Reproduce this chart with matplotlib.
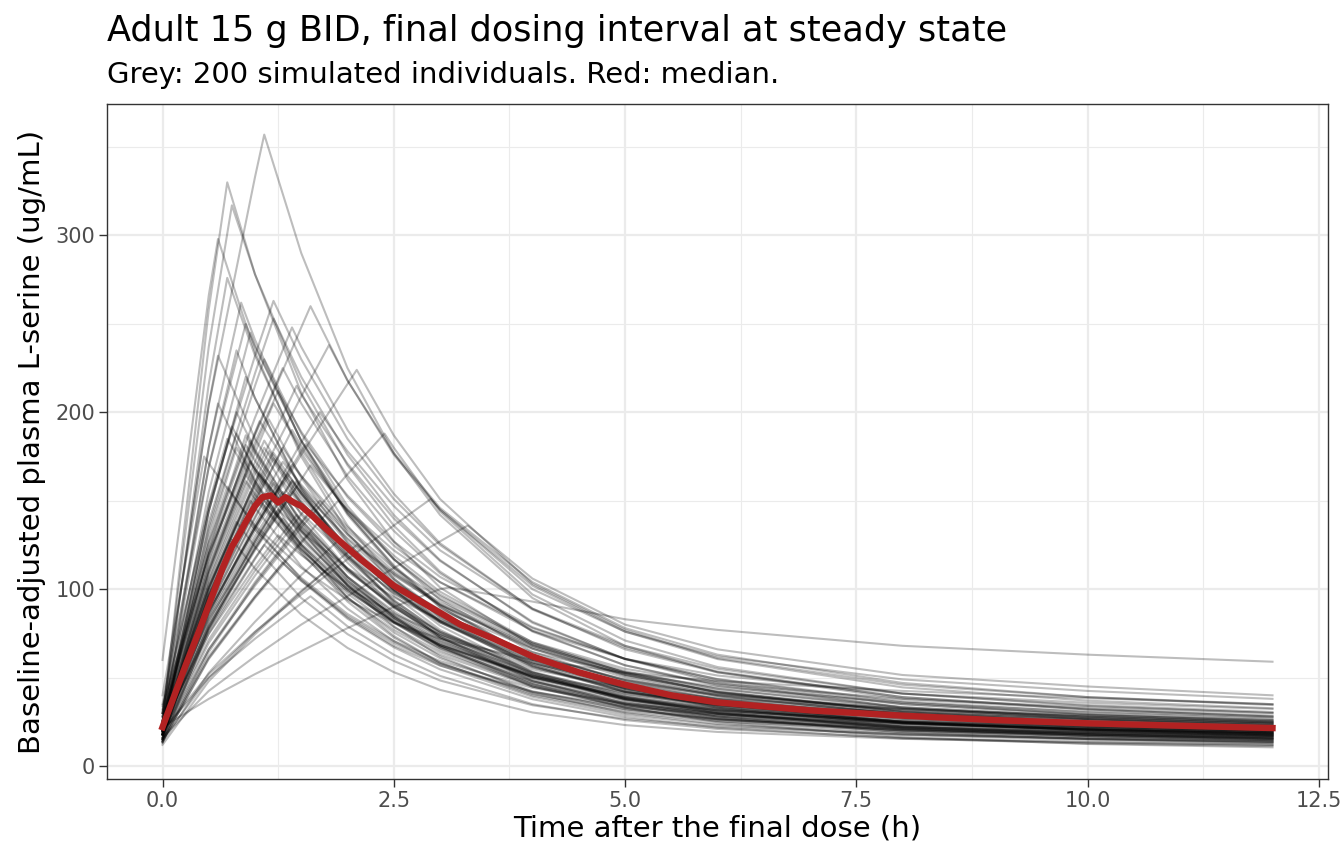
# Adult 15 g BID - final dosing interval, simulated individuals + median
import matplotlib
matplotlib.use("Agg")
import matplotlib.pyplot as plt
from matplotlib.ticker import MultipleLocator, FormatStrFormatter

# common sampling times (h) for each individual curve
t_grid = [0, 0.5, 1, 1.5, 2, 2.5, 3, 4, 5, 6, 8, 10, 12]

# time and value of each individual's peak
peak_t = [1.1, 0.7, 0.75, 0.6, 0.7, 1.2, 1.6, 1.8, 2.1, 2.4, 2.9, 3.3, 3.1, 1.6, 0.9,
          0.95, 1.2, 1.4, 0.8, 1.1, 1.3, 0.9, 0.6, 1.45, 1.2, 0.8, 1.05, 1.7, 1.4, 0.7,
          1.1, 0.45, 1.3, 0.9, 1.6, 1.2, 0.7, 1.4, 0.95, 1.9, 1.3, 0.8, 1.6, 1.1, 2.1,
          1.3, 1.8, 0.6, 0.85, 1.55, 1.25, 0.75, 1.05, 1.35, 0.9, 1.15, 1.25, 0.75, 1.45, 0.95,
          1.1, 0.95, 1.2, 1.4, 1.3, 1.45, 1.2, 1.05, 1.7, 1.4, 1.1, 1.3, 1.6, 1.2, 1.4,
          1.3, 1.1, 1.05, 0.9, 1.15, 1.25, 1.45, 0.95, 0.8, 0.9, 0.9, 0.95, 1.55, 1.9, 0.8]
peak_c = [357, 330, 317, 298, 276, 263, 260, 238, 224, 188, 151, 136, 101, 96, 250,
          245, 253, 248, 235, 230, 225, 220, 232, 215, 205, 200, 195, 200, 190, 185,
          180, 175, 172, 165, 170, 160, 158, 155, 150, 150, 140, 138, 132, 125, 125,
          115, 112, 205, 262, 182, 212, 192, 150, 165, 140, 178, 145, 128, 158, 172,
          184, 184, 177, 161, 180, 161, 174, 166, 150, 161.5, 162, 155, 144.5, 144, 170.5,
          161, 150, 165, 161, 196, 130.5, 142, 155, 180, 187, 181.5, 172.5, 145.6, 127.5, 188]

# concentration of each individual at t_grid (ug/mL)
conc = [
    [30, 204, 333, 290, 225, 177, 142, 95, 68, 53, 38, 32, 28],
    [25, 258, 278, 211, 162, 127, 101, 68, 51, 41, 31, 27, 24],
    [28, 237, 278, 216, 170, 136, 110, 76, 57, 46, 35, 29.5, 26],
    [60, 266, 234, 175, 132, 103, 82, 56, 42, 35, 28, 24, 22],
    [22, 216, 232, 177, 136, 106, 84, 57, 42, 34, 26, 22.5, 20],
    [32, 147, 232, 230, 185, 151, 125, 89, 68, 55, 41, 34.5, 30.6],
    [26, 118, 187, 248, 218, 176, 145, 102, 76, 60.5, 44.5, 37, 32.7],
    [24, 101, 158, 209, 218, 177, 146, 104, 78, 63, 47, 39, 35],
    [20, 85, 133, 176, 216, 187, 151, 103, 77, 61, 46, 39, 34.5],
    [18, 66, 102, 135, 165, 180, 144, 97, 71, 56, 41, 34, 30],
    [20, 52, 76, 97, 117, 136, 145, 100, 76, 62, 49, 42.5, 38],
    [16, 42.5, 62, 80, 96, 112, 127, 106, 80, 66, 51.5, 45, 40],
    [22, 38, 52, 65, 78, 90, 100, 93, 83, 77, 68, 63, 59],
    [20, 50, 72, 92, 79, 63, 51, 35, 26, 21, 16, 13.6, 12],
    [35, 169, 237, 184, 145, 117, 96, 70, 55, 46.6, 38, 33.3, 30],
    [20, 155, 238, 184, 143, 113, 90, 60, 44, 34, 24.6, 20.7, 18.3],
    [25, 138, 222, 220, 176, 142, 116.5, 81, 60.6, 48, 35, 29, 25.6],
    [30, 126, 197, 237, 190, 154, 126, 89, 66, 53, 39, 32.4, 28.6],
    [24, 169, 208, 156, 119, 92, 73, 50, 38, 31.5, 25.2, 22.2, 20],
    [22, 133, 215, 188, 147, 117, 94, 64.5, 47.6, 38, 28, 24, 21.3],
    [28, 120, 188, 205, 164, 133, 109, 76.5, 57, 45.4, 33.4, 27.9, 24.5],
    [18, 144, 208, 157, 120, 93, 73, 48.6, 35.4, 28, 21, 18, 16],
    [30, 204.5, 185, 142, 111.5, 90, 74, 54.7, 44.3, 38.3, 32.2, 28.7, 26],
    [20, 103, 165, 210, 171, 140, 116, 81.6, 60.5, 47, 33, 26.6, 23],
    [25, 114.5, 180.5, 179, 144, 117, 97, 69, 52, 42, 31.5, 26.5, 23.4],
    [22, 144, 179, 137, 106, 84, 67.7, 47, 35.7, 29.4, 23, 20, 18],
    [28, 120, 188.5, 158, 126, 103, 85, 62, 48.7, 40.6, 32.3, 28, 25],
    [18, 86, 137, 183, 178, 147, 122, 88.5, 67, 53.5, 39, 32, 28],
    [15, 92, 149, 181, 143, 113.5, 91, 61, 43.5, 33, 22.4, 18, 15.3],
    [30, 148, 159, 125, 100, 82, 68.5, 51.4, 41.8, 36, 30, 26.6, 24],
    [20, 105, 168, 148, 117, 93.5, 76, 53.4, 40.3, 32.8, 25, 21.5, 19.2],
    [40, 171, 136, 112, 94, 81, 72, 60, 52.8, 48, 42.5, 38.4, 35],
    [25, 93.5, 144, 159, 131, 108.6, 91, 67, 51.5, 41.8, 31, 25.9, 22.6],
    [22, 111, 157, 123, 97.5, 78.6, 64.4, 45.7, 35, 28.7, 22.2, 19.2, 17.2],
    [18, 78, 122, 162, 144.5, 119, 98.6, 70, 52.7, 41.5, 29.5, 24, 20.8],
    [20, 89.6, 141, 139, 111, 90, 74, 51.6, 38.5, 30.5, 22.4, 18.6, 16.3],
    [25, 126.6, 135, 105.7, 84, 68, 56.8, 42, 33.7, 29, 23.8, 21, 19],
    [20, 79, 123, 149, 122.7, 102, 86, 63, 48.8, 39.6, 29.6, 24.6, 21.6],
    [16, 96, 146, 113, 89, 70.7, 57, 39.2, 29, 23.2, 17.5, 14.8, 13],
    [16, 62, 96, 127, 145, 122, 104, 78, 60.7, 49, 36, 29.2, 25.2],
    [22, 77, 117.6, 128, 103.6, 85, 70.6, 50.9, 39.2, 32, 24.3, 20.6, 18.3],
    [18, 100, 124, 95, 74.6, 59.5, 48.4, 34.4, 26.7, 22.2, 17.9, 15.6, 14],
    [14, 60.5, 95, 126, 111.8, 91.4, 75.5, 53, 39.2, 30.5, 21.3, 17, 14.6],
    [18, 75, 117, 104.8, 84.8, 69.5, 57.9, 41.9, 32.4, 26.4, 20.3, 17.2, 15.3],
    [15, 50, 75.7, 99, 120.7, 109, 92.6, 68.5, 52.8, 42.4, 30.5, 24.6, 21.1],
    [14, 61, 95.8, 104.7, 83.3, 67.2, 54.7, 37.8, 27.8, 21.7, 15.6, 12.8, 11.3],
    [12, 48, 74.5, 98.4, 102.8, 83, 67.8, 46.3, 33.1, 24.8, 16.3, 12.5, 10.6],
    [20, 180, 161, 121, 93, 72.7, 58.3, 40.7, 31.4, 26.3, 21.3, 18.8, 17],
    [25, 180, 241, 183.6, 142, 112, 89.8, 61.8, 46.6, 38, 29.6, 25.8, 23],
    [22, 87, 134.6, 178, 153, 127, 107, 78.5, 60.6, 49.2, 36.7, 30.4, 26.8],
    [34, 119.4, 183, 189, 152, 124.7, 104, 76.5, 60.6, 51.2, 41, 35.8, 32.3],
    [19, 144, 167.8, 129.6, 102, 81.7, 66.8, 47.8, 37.4, 31.4, 25.3, 22.3, 20],
    [18, 91, 145, 120, 95, 77, 63, 45, 34.5, 28, 21.8, 18.7, 16.7],
    [24, 87.6, 135, 155.6, 128.8, 107.8, 91.3, 67.9, 53.2, 43.7, 33.2, 28, 24.6],
    [20, 95, 133.6, 106.4, 86, 70.7, 59.4, 44.2, 35.3, 30, 24.2, 21.3, 19.1],
    [16, 99, 161, 148.4, 115, 90.5, 72.2, 48.1, 34.6, 26.8, 19.3, 16.1, 14.2],
    [26, 83, 125.6, 132.6, 111.8, 95.5, 82.7, 64.3, 52.5, 44.7, 35.8, 30.8, 27.5],
    [14, 96.4, 111.6, 85.6, 66.8, 53.1, 43.1, 30.3, 23.2, 19.3, 15.4, 13.4, 12],
    [21, 79.5, 122.8, 154.5, 123.3, 99.4, 81.2, 56.5, 41.9, 33, 23.9, 19.8, 17.4],
    [23, 112, 168, 135.3, 110, 90.8, 76, 55.8, 43.6, 36.1, 27.9, 23.9, 21.3],
    [17.6, 106, 172, 150, 118, 94, 75, 52, 38, 30, 22, 19, 17],
    [15, 116, 178, 138, 107, 85, 67.5, 45, 33, 25.5, 18.5, 15.5, 13.7],
    [17.5, 97, 155, 154, 123, 99, 81.5, 57, 42.4, 33.6, 24.5, 20.3, 17.9],
    [19.5, 82, 128, 154, 123.5, 100, 82, 58, 43, 34.5, 25.4, 21, 18.6],
    [22.4, 96, 150, 164, 131, 106, 87, 61, 45.6, 36.3, 26.7, 22.3, 19.6],
    [15, 77, 124, 157.5, 128, 105, 87, 61, 45.4, 35, 24.8, 20, 17.3],
    [21, 97, 153, 152, 122, 99.5, 82.5, 58.6, 44, 35.7, 26.8, 22.5, 20],
    [24, 102, 160, 134, 107, 87.5, 72, 52.7, 41.4, 34.5, 27.5, 23.8, 21.3],
    [13.5, 64.5, 103, 137, 133.5, 110, 91.5, 66.4, 50, 40, 29, 24, 21],
    [13, 78, 127, 154, 121.5, 96.5, 77, 52, 37, 28, 19, 15.3, 13],
    [18, 94.5, 151, 133, 105, 84, 68.4, 48, 36, 29.5, 22.5, 19.4, 17.3],
    [22.5, 84, 130, 143, 118, 98, 82, 60, 46, 37.6, 28, 23.3, 20.3],
    [15.3, 66, 104, 138, 123, 101, 84, 59.5, 44.8, 35.3, 25, 20.4, 17.7],
    [18, 80.6, 127, 125, 100, 81, 66.6, 46.4, 34.7, 27.5, 20.2, 16.7, 14.7],
    [22, 87, 135, 164, 135, 112, 94.6, 69.3, 53.7, 43.6, 32.6, 27, 23.8],
    [25.3, 88.5, 135, 147, 119, 97.8, 81.2, 58.5, 45, 36.8, 28, 23.7, 21],
    [21.6, 90, 140, 125.8, 101.8, 83.4, 69.5, 50.3, 38.9, 31.7, 24.4, 20.6, 18.4],
    [19.8, 100, 159.5, 132, 104.5, 84.7, 69.3, 49.5, 38, 30.8, 24, 20.6, 18.4],
    [23, 109, 153.6, 122.4, 99, 81.3, 68.3, 50.8, 40.6, 34.5, 27.8, 24.5, 22],
    [17.6, 109, 177, 163, 126.5, 99.5, 79.4, 53, 38, 29.5, 21.2, 17.7, 15.6],
    [23.4, 74.7, 113, 119.3, 100.6, 86, 74.4, 57.9, 47.3, 40.2, 32.2, 27.7, 24.8],
    [19, 71.5, 110.5, 139, 111, 89.5, 73, 50.8, 37.7, 29.7, 21.5, 17.8, 15.7],
    [20.7, 101, 151, 121.8, 99, 81.7, 68.4, 50.2, 39.2, 32.5, 25.1, 21.5, 19.2],
    [19.8, 129.6, 161, 123.3, 95.4, 75.6, 61, 42.3, 32.1, 26.5, 20.7, 18, 16.2],
    [15.3, 122.4, 177, 133.5, 102, 79, 62, 41.3, 30, 23.8, 17.9, 15.3, 13.6],
    [24.2, 122, 172.7, 135.3, 107, 86.5, 70.8, 50.3, 38.5, 31.6, 24.4, 21.1, 18.9],
    [18.4, 110.4, 168, 130, 102.4, 81.3, 65.6, 45, 33.4, 26.7, 20.1, 17, 15],
    [17.6, 69.6, 107.7, 142.4, 122.4, 101.6, 85.6, 62.8, 48.5, 39.4, 29.4, 24.3, 21.4],
    [13.6, 52.7, 81.6, 108, 123.3, 103.7, 88.4, 66.3, 51.6, 41.7, 30.6, 24.8, 21.4],
    [19.2, 135, 166.4, 124.8, 95.2, 73.6, 58.4, 40, 30.4, 25.2, 20.2, 17.8, 16],
]

# median profile (red)
median_t = [0, 0.1, 0.25, 0.4, 0.5, 0.65, 0.75, 0.83, 0.9, 1.0, 1.08, 1.17, 1.25, 1.33,
            1.42, 1.5, 1.63, 1.75, 1.92, 2.14, 2.5, 2.86, 3.22, 3.58, 4.0, 4.5, 5.0, 5.5,
            6.0, 7.0, 8.0, 9.0, 10.0, 11.0, 12.0]
median_c = [22, 36, 57, 77, 91, 112, 124, 131, 138, 147, 152, 153, 149, 152,
            149, 147, 141, 135, 127, 117, 102, 91, 80, 72, 62, 53, 46, 40,
            36, 31.5, 28.5, 26, 24.2, 22.8, 21.5]

fig = plt.figure(figsize=(13.44, 8.64), dpi=100)
ax = fig.add_axes([107 / 1344, 1 - 779 / 864, (1328 - 107) / 1344, (779 - 104) / 864])

for row, tp, cp in zip(conc, peak_t, peak_c):
    pts = sorted(zip(t_grid + [tp], row + [cp]))
    ax.plot([p[0] for p in pts], [p[1] for p in pts], color="black", alpha=0.26,
            lw=1.5, solid_joinstyle="round")

ax.plot(median_t, median_c, color="#B22222", lw=4.6, solid_joinstyle="round")

ax.set_xlim(-0.6, 12.6)
ax.set_ylim(-7.3, 374.3)
ax.xaxis.set_major_locator(MultipleLocator(2.5))
ax.xaxis.set_minor_locator(MultipleLocator(1.25))
ax.xaxis.set_major_formatter(FormatStrFormatter("%.1f"))
ax.yaxis.set_major_locator(MultipleLocator(100))
ax.yaxis.set_minor_locator(MultipleLocator(50))

ax.set_axisbelow(True)
ax.grid(which="major", color="#ebebeb", lw=1.6)
ax.grid(which="minor", color="#ebebeb", lw=0.8)
for s in ax.spines.values():
    s.set_color("#333333")
    s.set_linewidth(1.0)
ax.tick_params(which="major", length=5.5, width=1.0, color="#333333",
               labelsize=15, labelcolor="#4d4d4d", pad=3)
ax.tick_params(which="minor", length=0)

ax.set_xlabel("Time after the final dose (h)", fontsize=21, labelpad=3)
ax.set_ylabel("Baseline-adjusted plasma L-serine (ug/mL)", fontsize=21, labelpad=7)

fig.text(107 / 1344, 1 - 41 / 864, "Adult 15 g BID, final dosing interval at steady state",
         fontsize=25.3, va="baseline", ha="left")
fig.text(107 / 1344, 1 - 83 / 864, "Grey: 200 simulated individuals. Red: median.",
         fontsize=21, va="baseline", ha="left")

fig.savefig("out.png", dpi=100)
